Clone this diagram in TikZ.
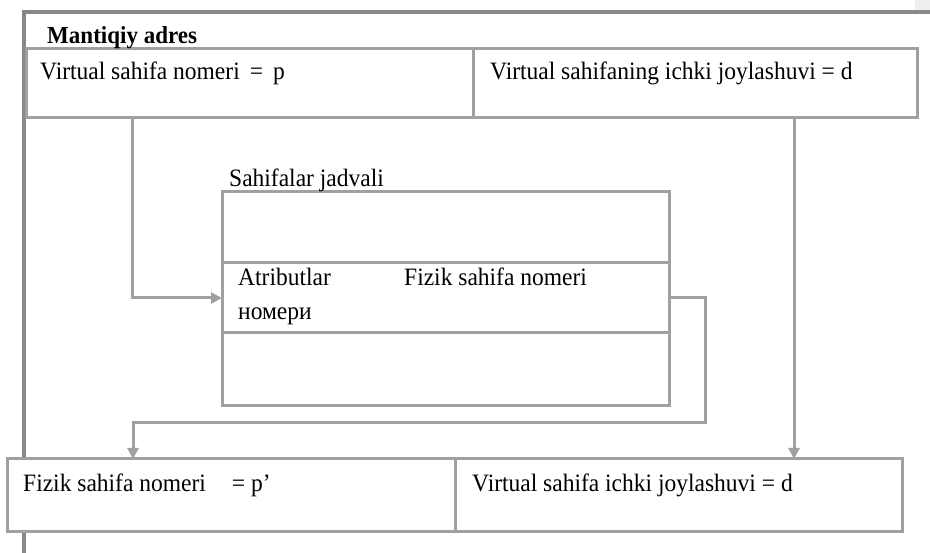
\documentclass[tikz,border=0pt]{standalone}
\usepackage{fontspec}
\setmainfont{Liberation Serif}[FakeStretch=0.94]
\usetikzlibrary{arrows.meta,calc}
\definecolor{linegray}{HTML}{A0A0A0}
\definecolor{framegray}{HTML}{888888}
\definecolor{pagegray}{HTML}{EEEEEE}
\begin{document}
\begin{tikzpicture}[x=1pt,y=-1pt,
  cell/.style={draw=linegray,line width=3pt,fill=white,inner sep=0pt,outer sep=0pt,anchor=north west},
  txt/.style={inner sep=0pt,anchor=base west,font=\fontsize{25}{29}\selectfont},
  txtb/.style={txt,font=\fontsize{24.5}{29}\selectfont\bfseries},
  conn/.style={draw=linegray,line width=3pt,-{Triangle[length=11pt,width=11pt]}},
  frame/.style={draw=framegray,line width=4pt}]
\useasboundingbox (0,0) rectangle (930,553);
\fill[pagegray] (915,0) rectangle (930,11);
\draw[frame] (930,12) -- (24,12) -- (24,553);
% top box
\node[cell,minimum width=447pt,minimum height=69pt] (tl) at (26,49) {};
\node[cell,minimum width=444pt,minimum height=69pt] (tr) at (473,49) {};
% table
\node[cell,minimum width=447pt,minimum height=71pt] (r1) at (222,192) {};
\node[cell,minimum width=447pt,minimum height=70pt] (r2) at (222,263) {};
\node[cell,minimum width=447pt,minimum height=73pt] (r3) at (222,333) {};
% bottom box
\node[cell,minimum width=448pt,minimum height=72pt] (bl) at (7,459) {};
\node[cell,minimum width=447pt,minimum height=72pt] (br) at (455,459) {};
% texts
\node[txtb] (lbl) at (47,44) {Mantiqiy adres};
\node[txt] (t1) at (40,80) {Virtual sahifa nomeri\hspace{10pt}=\hspace{10pt}p};
\node[txt] (t2) at (490,80) {Virtual sahifaning ichki joylashuvi = d};
\node[txt] (t3) at (229,187) {Sahifalar jadvali};
\node[txt] (t4) at (238,286) {Atributlar};
\node[txt] (t5) at (238,320) {номери};
\node[txt] (t6) at (404,286) {Fizik sahifa nomeri};
\node[txt] (t7) at (23,491) {Fizik sahifa nomeri\hspace{26pt}= p’};
\node[txt] (t8) at (472,491) {Virtual sahifa ichki joylashuvi = d};
% connectors
\draw[conn] ($(tl.south west)+(106,0)$) |- (r2.west);
\draw[conn] (r2.east) -- ++(36,0) |- ($(bl.north west)+(126,-36)$) -- ($(bl.north west)+(126,0)$);
\draw[conn] ($(tr.south west)+(321,0)$) -- ($(br.north west)+(339,0)$);
\end{tikzpicture}
\end{document}
